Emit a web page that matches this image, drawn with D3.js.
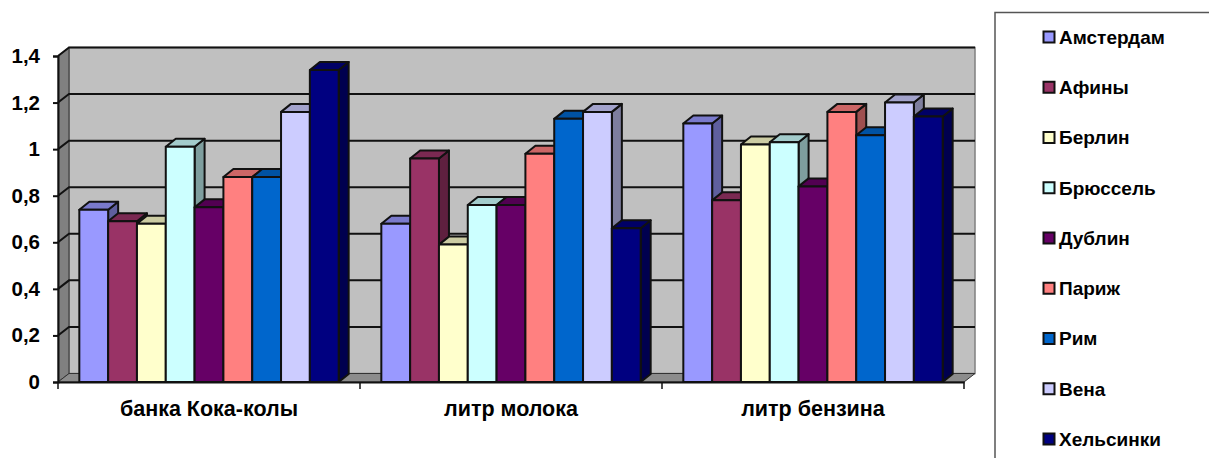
<!DOCTYPE html>
<html>
<head>
<meta charset="utf-8">
<script src="https://cdn.jsdelivr.net/npm/d3@7"></script>
<style>
  html, body { margin: 0; padding: 0; background: #fff; overflow: hidden; }
  svg { display: block; font-family: "Liberation Sans", Arial, sans-serif; font-weight: bold; }
</style>
</head>
<body>
<div id="chart"></div>
<script>
var categories = ["банка Кока-колы", "литр молока", "литр бензина"];
var cities = ["Амстердам", "Афины", "Берлин", "Брюссель", "Дублин", "Париж", "Рим", "Вена", "Хельсинки"];
var colors = ["#9999FF", "#993366", "#FFFFCC", "#CCFFFF", "#660066", "#FF8080", "#0066CC", "#CCCCFF", "#000080"];

var coke = [0.74, 0.69, 0.68, 1.01, 0.75, 0.88, 0.88, 1.16, 1.34];
var milk = [0.68, 0.96, 0.59, 0.76, 0.76, 0.98, 1.13, 1.16, 0.66];
var petrol = [1.11, 0.78, 1.02, 1.03, 0.84, 1.16, 1.06, 1.20, 1.14];
var series = [coke, milk, petrol];

var yTicks = [0, 0.2, 0.4, 0.6, 0.8, 1, 1.2, 1.4];

var w = 1209;
var h = 458;

// depth of the fake 3d box
var dx = 11, dy = -8.5;
var barDx = 10, barDy = -8;

var svg = d3.select("#chart")
  .append("svg")
  .attr("width", w)
  .attr("height", h)
  .attr("viewBox", "0 0 " + w + " " + h);

var x0 = d3.scaleBand().domain(categories).range([58, 964]);
var x1 = d3.scaleBand().domain(cities).range([0, x0.bandwidth()]).paddingOuter(0.74);
var y = d3.scaleLinear().domain([0, 1.4]).range([382, 56]);

function pts(list) {
  return list.map(function(p) { return p[0] + "," + p[1]; }).join(" ");
}

function shade(c, k) {
  var r = d3.rgb(c);
  return d3.rgb(r.r * k, r.g * k, r.b * k).formatHex();
}

var left = x0.range()[0], right = x0.range()[1];
var y0 = y(0), yTop = y(1.4);

// walls
svg.append("polygon")
  .attr("points", pts([[left + dx, yTop + dy], [right + dx, yTop + dy], [right + dx, y0 + dy], [left + dx, y0 + dy]]))
  .style("fill", "#C0C0C0")
  .style("stroke", "#808080")
  .style("stroke-width", 1.5);

svg.append("polygon")
  .attr("points", pts([[left, yTop], [left + dx, yTop + dy], [left + dx, y0 + dy], [left, y0]]))
  .style("fill", "#808080")
  .style("stroke", "#333")
  .style("stroke-width", 1);

svg.append("polygon")
  .attr("points", pts([[left, y0], [left + dx, y0 + dy], [right + dx, y0 + dy], [right, y0]]))
  .style("fill", "#8C8C8C")
  .style("stroke", "#333")
  .style("stroke-width", 1);

// gridlines run across the side wall and then the back wall
svg.append("g")
  .selectAll("polyline")
  .data(yTicks.filter(function(d) { return d > 0; }))
  .enter()
  .append("polyline")
  .attr("points", function(d) {
    return pts([[left, y(d)], [left + dx, y(d) + dy], [right + dx, y(d) + dy]]);
  })
  .style("fill", "none")
  .style("stroke", "#111")
  .style("stroke-width", 2);

// axes
var yAxis = d3.axisLeft(y)
  .tickValues(yTicks)
  .tickSize(5)
  .tickPadding(13)
  .tickFormat(function(d) { return String(d).replace(".", ","); });

var gy = svg.append("g")
  .attr("transform", "translate(" + left + ",0)")
  .call(yAxis);
gy.selectAll("text").style("font-size", "20.5px").style("fill", "#000");
gy.selectAll("line, path").style("stroke", "#111").style("stroke-width", 2);

var xAxis = d3.axisBottom(x0).tickSize(0).tickPadding(19);
var gx = svg.append("g")
  .attr("transform", "translate(0," + y0 + ")")
  .call(xAxis);
gx.selectAll("text").style("font-size", "21.5px").style("fill", "#000");
gx.selectAll("path").style("stroke", "#111").style("stroke-width", 2);

// boundary ticks between the categories
svg.append("g")
  .selectAll("line")
  .data(categories.concat(["end"]))
  .enter()
  .append("line")
  .attr("x1", function(d) { return d === "end" ? right : x0(d); })
  .attr("x2", function(d) { return d === "end" ? right : x0(d); })
  .attr("y1", y0)
  .attr("y2", y0 + 7)
  .style("stroke", "#111")
  .style("stroke-width", 1.5);

// bars
var groups = svg.append("g")
  .selectAll("g")
  .data(categories)
  .enter()
  .append("g")
  .attr("transform", function(d) { return "translate(" + x0(d) + ",0)"; });

groups.each(function(cat, ci) {
  var g = d3.select(this);
  cities.forEach(function(city, i) {
    var v = series[ci][i];
    var xa = x1(city), xb = xa + x1.bandwidth(), yv = y(v);
    var bar = g.append("g")
      .style("stroke", "#111")
      .style("stroke-width", 2)
      .style("stroke-linejoin", "round");
    // side
    bar.append("polygon")
      .attr("points", pts([[xb, yv], [xb + barDx, yv + barDy], [xb + barDx, y0 + barDy], [xb, y0]]))
      .style("fill", shade(colors[i], 0.62));
    // top
    bar.append("polygon")
      .attr("points", pts([[xa, yv], [xa + barDx, yv + barDy], [xb + barDx, yv + barDy], [xb, yv]]))
      .style("fill", shade(colors[i], 0.8));
    // front
    bar.append("rect")
      .attr("x", xa)
      .attr("y", yv)
      .attr("width", x1.bandwidth())
      .attr("height", y0 - yv)
      .style("fill", colors[i]);
  });
});

// legend
var ly = d3.scalePoint().domain(cities).range([37, 439]);

svg.append("path")
  .attr("d", "M995," + h + "V12.5H" + w)
  .style("fill", "none")
  .style("stroke", "#555")
  .style("stroke-width", 1.5);

var legend = svg.append("g")
  .selectAll("g")
  .data(cities)
  .enter()
  .append("g")
  .attr("transform", function(d) { return "translate(1043," + ly(d) + ")"; });

legend.append("rect")
  .attr("x", 0.5)
  .attr("y", -5.5)
  .attr("width", 11)
  .attr("height", 11)
  .style("fill", function(d, i) { return colors[i]; })
  .style("stroke", "#111")
  .style("stroke-width", 2);

legend.append("text")
  .attr("x", 16)
  .attr("dy", "0.36em")
  .style("font-size", "19px")
  .text(function(d) { return d; });
</script>
</body>
</html>
